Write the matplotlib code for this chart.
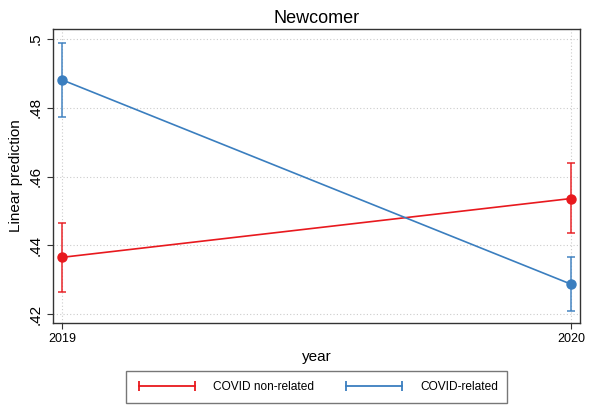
import matplotlib
matplotlib.use("Agg")
import matplotlib.pyplot as plt
from matplotlib.lines import Line2D

years = [2019, 2020]
series_names = ["COVID non-related", "COVID-related"]
nonrel_mean = [0.4365, 0.4536]
nonrel_lo = [0.4265, 0.4435]
nonrel_hi = [0.4465, 0.4640]
rel_mean = [0.4881, 0.4287]
rel_lo = [0.4773, 0.4208]
rel_hi = [0.4989, 0.4366]
yticks = [0.42, 0.44, 0.46, 0.48, 0.50]
ytick_labels = [".42", ".44", ".46", ".48", ".5"]

plt.rcParams['font.family'] = ['Liberation Sans', 'DejaVu Sans']

fig = plt.figure(figsize=(5.9, 4.08), dpi=100)
ax = fig.add_axes([0.0898, 0.2083, 0.8932, 0.7206])

colors = ["#e8191e", "#3a7ebf"]
for mean, lo, hi, c in [(nonrel_mean, nonrel_lo, nonrel_hi, colors[0]),
                        (rel_mean, rel_lo, rel_hi, colors[1])]:
    yerr = [[m - l for m, l in zip(mean, lo)], [h - m for m, h in zip(mean, hi)]]
    ax.errorbar(years, mean, yerr=yerr, fmt='none', ecolor=c, elinewidth=1.3,
                capsize=3, capthick=1.3, alpha=0.8, zorder=3)
    ax.plot(years, mean, color=c, lw=1.2, marker='o', ms=6.5, zorder=4)

ax.set_xlim(2018.982, 2020.0177)
ax.set_ylim(0.4174, 0.5029)
ax.set_xticks(years)
ax.set_xticklabels([str(y) for y in years], fontsize=9)
ax.set_yticks(yticks)
ax.set_yticklabels(ytick_labels, rotation=90, va='center', fontsize=11)
ax.grid(True, color='#cccccc', linestyle=(0, (1, 2)), lw=0.8)
ax.set_axisbelow(True)
for s in ax.spines.values():
    s.set_color('#333333')
    s.set_linewidth(1.0)
ax.tick_params(axis='both', colors='#333333', labelcolor='black', length=4)
ax.set_title("Newcomer", fontsize=13, pad=4)
ax.set_ylabel("Linear prediction", fontsize=11, labelpad=4)
ax.set_xlabel("year", fontsize=11, labelpad=3)

leg_handles = [Line2D([0], [0], color=colors[0], lw=1.3, marker='|', ms=7, mew=1.3),
               Line2D([0], [0], color=colors[1], lw=1.3, marker='|', ms=7, mew=1.3)]
leg = fig.legend(leg_handles, series_names, loc='center', bbox_to_anchor=(0.5364, 0.0515),
                 ncol=2, frameon=True, fancybox=False, edgecolor='#555555', fontsize=8.6,
                 numpoints=2, handlelength=5.3, columnspacing=2.4, borderpad=0.8,
                 handletextpad=1.2, borderaxespad=0)
leg.get_frame().set_linewidth(1.0)

fig.savefig("out.png", dpi=100)
